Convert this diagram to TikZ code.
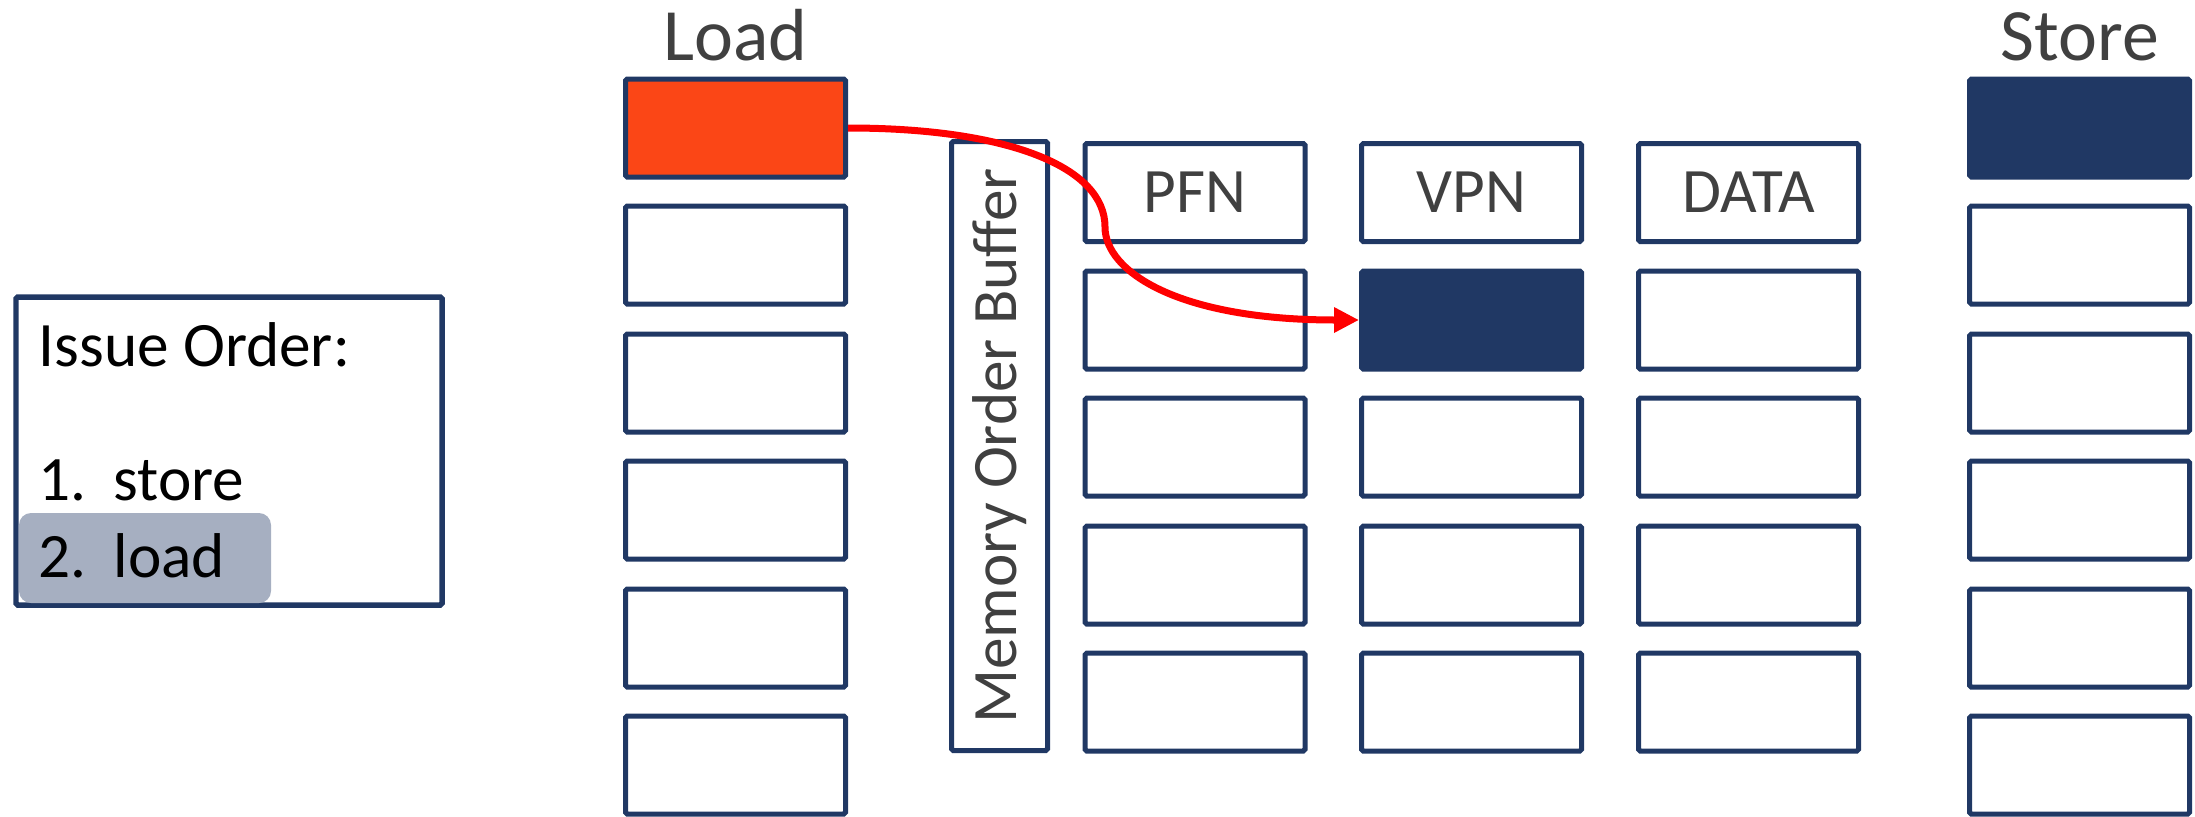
\documentclass[tikz,border=0pt]{standalone}
\usepackage{fontspec}
\setmainfont{Carlito}
\usetikzlibrary{arrows.meta}
\definecolor{navy}{HTML}{203864}
\definecolor{loadred}{HTML}{FB4616}
\definecolor{labelgrey}{HTML}{404040}
\tikzset{
	slot/.style={draw=navy, line width=0.05cm, fill=white, rounded corners=0.5pt, minimum width=2.2cm, minimum height=0.98cm, inner sep=0pt, text=labelgrey, font=\fontsize{18}{21}\selectfont},
	busy/.style={slot, fill=navy},
	qlabel/.style={anchor=base, inner sep=0pt, text=labelgrey, font=\fontsize{21}{25}\selectfont},
	itxt/.style={anchor=base west, inner sep=0pt, text=black, font=\fontsize{18}{21}\selectfont},
	ldarrow/.style={draw=red, line width=0.07cm, -{Triangle[length=0.25cm, width=0.24cm]}}
}

\begin{document}
\begin{tikzpicture}
			%%%%% START %%%%%
			\useasboundingbox (0, 0) rectangle (21.95, 8.16);
			
			\node[draw=navy, line width=0.055cm, rounded corners=0.5pt, minimum width=4.26cm, minimum height=3.08cm] (issue) at (2.29, 3.65) {};
			\node[fill=navy!40, rounded corners=0.12cm, minimum width=2.52cm, minimum height=0.9cm] (hl) at (1.45, 2.58) {};
			\node[itxt] (iss) at (0.38, 4.50) {Issue Order:};
			\node[itxt] (i1) at (0.38, 3.16) {\makebox[0.75cm][l]{1.}store};
			\node[itxt] (i2) at (0.38, 2.39) {\makebox[0.75cm][l]{2.}load};
			
			\node[qlabel] (ldlabel) at (7.355, 7.56) {Load};
			\node[slot, fill=loadred] (ld1) at (7.355, 6.88) {};
			\node[slot] (ld2) at (7.355, 5.61) {};
			\node[slot] (ld3) at (7.355, 4.33) {};
			\node[slot] (ld4) at (7.355, 3.06) {};
			\node[slot] (ld5) at (7.355, 1.78) {};
			\node[slot] (ld6) at (7.355, 0.51) {};
			
			\node[slot, minimum width=0.96cm, minimum height=6.09cm] (mob) at (9.995, 3.70) {\rotatebox{90}{Memory Order Buffer}};
			
			\node[slot] (pfn1) at (11.95, 6.235) {PFN};
			\node[slot] (pfn2) at (11.95, 4.96) {};
			\node[slot] (pfn3) at (11.95, 3.69) {};
			\node[slot] (pfn4) at (11.95, 2.41) {};
			\node[slot] (pfn5) at (11.95, 1.14) {};
			
			\node[slot] (vpn1) at (14.715, 6.235) {VPN};
			\node[busy] (vpn2) at (14.715, 4.96) {};
			\node[slot] (vpn3) at (14.715, 3.69) {};
			\node[slot] (vpn4) at (14.715, 2.41) {};
			\node[slot] (vpn5) at (14.715, 1.14) {};
			
			\node[slot] (dat1) at (17.485, 6.235) {DATA};
			\node[slot] (dat2) at (17.485, 4.96) {};
			\node[slot] (dat3) at (17.485, 3.69) {};
			\node[slot] (dat4) at (17.485, 2.41) {};
			\node[slot] (dat5) at (17.485, 1.14) {};
			
			\node[qlabel] (stlabel) at (20.795, 7.56) {Store};
			\node[busy] (st1) at (20.795, 6.88) {};
			\node[slot] (st2) at (20.795, 5.61) {};
			\node[slot] (st3) at (20.795, 4.33) {};
			\node[slot] (st4) at (20.795, 3.06) {};
			\node[slot] (st5) at (20.795, 1.78) {};
			\node[slot] (st6) at (20.795, 0.51) {};
			
			\coordinate (bend) at (11.05, 5.89);
			\draw[ldarrow] (ld1.east) .. controls +(1.6, 0) and +(0, 0.6) .. (bend) .. controls +(0, -0.45) and +(-1.8, 0) .. (vpn2.west);
			
			%%%%% END %%%%%
		\end{tikzpicture}
\end{document}
